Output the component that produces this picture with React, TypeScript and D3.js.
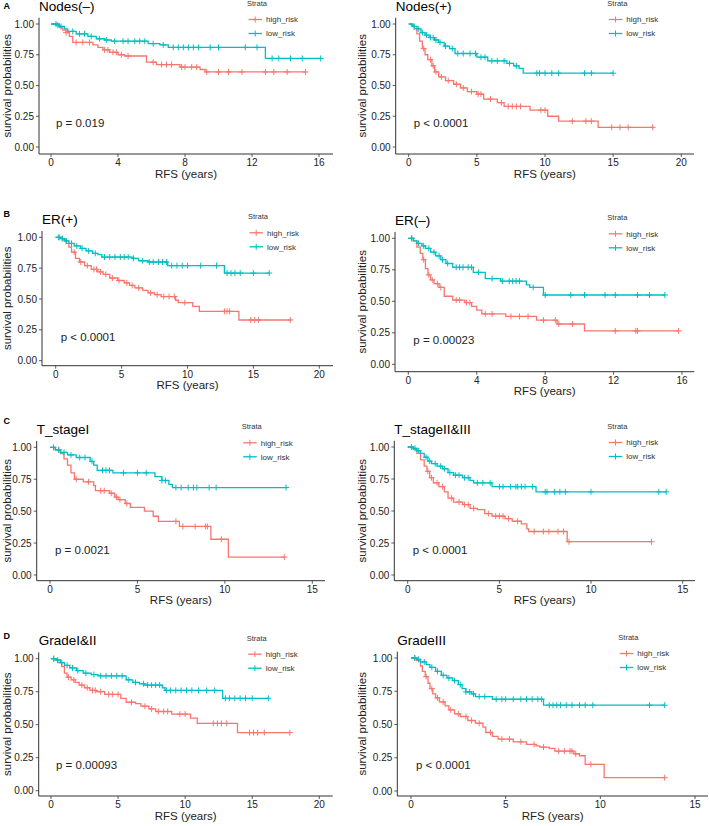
import { useEffect, useRef } from 'react'
import * as d3 from 'd3'

type Step = [number, number]

const strata = ['high_risk', 'low_risk']
const strataColors = ['#F8766D', '#00BFC4']
const yTicks = [0, 0.25, 0.5, 0.75, 1]

// [time, survival after the drop]; censor = times of "+" marks (last one = end of curve)
const nodesNegHighSteps: Step[] = [[0.3,0.99],[0.5,0.97],[0.7,0.95],[0.9,0.93],[1.1,0.9],[1.3,0.85],[2.5,0.83],[2.8,0.81],[3.1,0.79],[3.5,0.77],[4.0,0.75],[4.4,0.74],[5.7,0.69],[6.3,0.67],[7.7,0.65],[8.9,0.63],[9.2,0.61]]
const nodesNegHighCensor = [0.4,0.9,1.5,1.9,2.3,3.2,3.4,3.7,3.9,4.2,4.6,6.1,6.6,6.9,7.2,7.8,8.0,8.4,8.7,9.3,10.0,10.6,11.4,12.8,13.3,14.1,15.2]
const nodesNegLowSteps: Step[] = [[0.5,0.98],[0.8,0.96],[1.0,0.94],[1.5,0.92],[2.2,0.9],[2.7,0.88],[3.2,0.87],[3.6,0.86],[5.8,0.84],[6.5,0.83],[7.0,0.81],[12.8,0.72]]
const nodesNegLowCensor = [0.3,0.6,1.3,1.7,2.0,2.4,2.9,3.3,3.8,4.3,4.6,5.0,5.3,5.6,6.1,6.7,7.3,7.6,7.9,8.2,8.5,8.8,9.5,10.0,11.6,12.3,13.2,13.6,14.3,15.0,16.1]

const nodesPosHighSteps: Step[] = [[0.2,0.99],[0.4,0.96],[0.6,0.92],[0.8,0.86],[1.0,0.8],[1.2,0.75],[1.4,0.71],[1.7,0.66],[1.9,0.61],[2.2,0.57],[2.7,0.54],[3.3,0.51],[3.8,0.48],[4.3,0.45],[5.0,0.43],[5.5,0.39],[6.5,0.36],[7.0,0.33],[8.9,0.3],[10.2,0.25],[11.0,0.21],[13.9,0.16]]
const nodesPosHighCensor = [1.1,1.6,1.8,2.0,2.4,2.9,3.5,4.0,4.6,5.1,5.3,6.0,6.8,7.3,7.6,7.9,8.2,9.7,10.0,12.0,13.0,13.4,14.9,15.5,16.1,17.9]
const nodesPosLowSteps: Step[] = [[0.3,0.98],[0.6,0.96],[0.9,0.93],[1.2,0.91],[1.5,0.89],[1.9,0.87],[2.2,0.85],[2.6,0.82],[3.0,0.8],[3.4,0.76],[5.0,0.73],[5.8,0.7],[7.2,0.68],[7.7,0.66],[8.1,0.64],[8.4,0.6]]
const nodesPosLowCensor = [0.4,0.7,1.0,1.3,1.6,1.8,2.0,2.3,2.7,3.2,3.6,4.0,4.5,4.9,5.3,5.6,6.1,6.5,7.0,7.4,7.9,9.4,9.6,10.0,10.5,11.0,12.9,13.4,15.0]

const erPosHighSteps: Step[] = [[0.5,0.98],[0.8,0.95],[1.0,0.92],[1.2,0.88],[1.5,0.83],[1.8,0.8],[2.2,0.77],[2.7,0.74],[3.2,0.72],[3.6,0.7],[4.1,0.67],[4.7,0.65],[5.2,0.63],[5.6,0.61],[6.0,0.59],[6.6,0.57],[7.0,0.55],[7.5,0.535],[8.0,0.52],[9.1,0.49],[9.3,0.47],[10.4,0.44],[10.9,0.4],[13.9,0.33]]
const erPosHighCensor = [0.3,1.4,1.9,2.4,2.9,3.1,3.4,3.8,4.3,4.8,5.4,5.8,6.3,7.2,7.7,8.2,8.6,9.0,9.8,12.8,13.0,13.2,14.8,15.1,15.4,17.8]
const erPosLowSteps: Step[] = [[0.4,0.99],[0.7,0.97],[1.0,0.95],[1.4,0.93],[1.9,0.91],[2.3,0.89],[2.8,0.87],[3.2,0.86],[3.5,0.84],[5.8,0.83],[6.3,0.81],[7.0,0.8],[8.5,0.77],[12.8,0.71]]
const erPosLowCensor = [0.2,0.5,0.8,1.2,1.6,2.0,2.5,3.0,3.7,4.1,4.5,4.9,5.2,5.5,5.9,6.6,7.1,7.4,7.8,8.1,8.4,8.8,9.2,9.6,10.0,11.0,12.2,13.0,13.3,13.6,14.0,15.0,16.2]

const erNegHighSteps: Step[] = [[0.3,0.98],[0.5,0.93],[0.7,0.88],[0.85,0.83],[1.0,0.76],[1.15,0.71],[1.3,0.67],[1.5,0.64],[1.8,0.61],[2.1,0.54],[2.6,0.51],[3.3,0.49],[3.7,0.46],[4.0,0.43],[4.3,0.4],[5.7,0.38],[7.5,0.35],[8.7,0.32],[10.3,0.265]]
const erNegHighCensor = [0.2,0.9,1.2,1.4,1.7,1.9,2.8,3.0,3.4,3.6,4.5,4.9,6.0,6.5,7.0,7.9,8.6,8.8,9.6,12.1,13.3,13.4,15.8]
const erNegLowSteps: Step[] = [[0.3,0.98],[0.5,0.96],[0.8,0.94],[1.0,0.92],[1.3,0.89],[1.6,0.86],[1.9,0.83],[2.2,0.8],[2.6,0.77],[3.8,0.73],[4.5,0.68],[5.4,0.66],[6.9,0.63],[7.1,0.61],[7.9,0.55]]
const erNegLowCensor = [0.2,0.6,0.9,1.2,1.5,1.8,2.0,2.3,2.8,3.0,3.2,3.5,3.7,4.1,4.9,5.5,5.9,6.1,6.3,6.5,7.3,8.0,9.5,10.3,11.5,12.1,13.4,14.1,15.0]

const stageIHighSteps: Step[] = [[0.3,0.98],[0.6,0.95],[0.8,0.91],[1.0,0.86],[1.2,0.8],[1.4,0.75],[1.9,0.73],[2.5,0.7],[2.6,0.66],[3.4,0.64],[3.7,0.61],[3.9,0.59],[4.3,0.56],[4.6,0.53],[5.4,0.5],[5.9,0.46],[6.2,0.42],[7.4,0.38],[9.2,0.28],[10.2,0.14]]
const stageIHighCensor = [0.5,1.5,2.2,2.9,3.1,3.5,3.8,4.0,4.4,7.2,7.6,8.3,8.9,9.0,9.8,13.4]
const stageILowSteps: Step[] = [[0.3,0.98],[0.6,0.96],[1.0,0.94],[1.5,0.92],[2.3,0.89],[2.5,0.86],[2.7,0.82],[3.6,0.8],[6.0,0.77],[6.4,0.74],[6.8,0.71],[7.0,0.685]]
const stageILowCensor = [0.2,0.5,0.8,1.2,1.7,2.0,2.4,3.0,3.2,3.4,4.2,5.0,5.5,6.4,6.6,7.2,7.5,7.9,8.2,8.4,9.1,9.5,13.5]

const stageIIHighSteps: Step[] = [[0.3,0.98],[0.5,0.95],[0.7,0.9],[0.9,0.85],[1.05,0.81],[1.2,0.76],[1.4,0.72],[1.7,0.69],[2.0,0.65],[2.2,0.6],[2.5,0.57],[3.0,0.55],[3.4,0.52],[3.8,0.51],[4.2,0.48],[4.6,0.46],[5.3,0.44],[5.7,0.42],[6.2,0.4],[6.5,0.36],[6.6,0.34],[8.7,0.26]]
const stageIIHighCensor = [1.1,1.3,1.6,1.9,2.4,2.8,3.1,3.3,3.6,4.4,4.8,5.0,5.2,5.5,6.0,6.9,7.4,7.7,8.2,8.5,8.8,13.3]
const stageIILowSteps: Step[] = [[0.3,0.99],[0.5,0.97],[0.7,0.95],[0.9,0.92],[1.1,0.89],[1.3,0.87],[1.6,0.85],[1.9,0.83],[2.2,0.8],[2.5,0.78],[3.0,0.76],[3.4,0.74],[3.6,0.72],[4.6,0.69],[7.0,0.65]]
const stageIILowCensor = [0.2,0.4,0.6,1.0,1.2,1.5,1.8,2.0,2.3,2.6,2.8,3.1,3.3,3.8,4.1,4.5,5.0,5.2,5.6,5.9,6.0,6.2,6.4,6.8,7.5,7.6,8.0,8.3,8.6,10.0,13.7,14.1]

const gradeIHighSteps: Step[] = [[0.3,0.99],[0.5,0.97],[0.8,0.94],[1.0,0.89],[1.2,0.86],[1.5,0.84],[1.8,0.82],[2.1,0.8],[2.5,0.78],[2.9,0.76],[3.4,0.75],[4.0,0.73],[5.2,0.7],[5.6,0.67],[6.3,0.66],[6.7,0.64],[7.3,0.62],[7.8,0.6],[9.0,0.58],[10.4,0.55],[10.9,0.51],[13.9,0.44]]
const gradeIHighCensor = [0.2,1.3,1.7,2.3,2.7,3.1,3.3,3.7,4.3,4.6,5.0,6.0,7.0,7.5,8.0,8.4,8.7,9.6,10.0,12.1,12.4,12.7,13.1,14.8,15.1,15.4,15.9,17.8]
const gradeILowSteps: Step[] = [[0.4,0.99],[0.7,0.97],[1.0,0.95],[1.4,0.93],[1.9,0.91],[2.4,0.89],[3.0,0.88],[3.5,0.87],[5.6,0.84],[6.1,0.82],[6.6,0.81],[7.0,0.8],[8.3,0.78],[8.5,0.76],[12.8,0.7]]
const gradeILowCensor = [0.2,0.5,0.8,1.2,1.6,2.0,2.6,3.2,3.7,4.1,4.5,4.9,5.3,5.8,6.3,6.9,7.2,7.5,7.8,8.1,8.6,8.9,9.3,9.7,10.1,10.5,11.0,11.6,12.2,13.0,13.3,13.7,14.1,14.5,15.0,16.2]

const gradeIIIHighSteps: Step[] = [[0.3,0.98],[0.5,0.94],[0.6,0.9],[0.75,0.86],[0.9,0.81],[1.0,0.77],[1.15,0.73],[1.3,0.7],[1.5,0.67],[1.8,0.64],[2.0,0.61],[2.3,0.58],[2.6,0.56],[3.0,0.53],[3.4,0.51],[3.8,0.48],[3.95,0.44],[4.3,0.41],[4.6,0.39],[5.4,0.37],[6.1,0.35],[6.6,0.34],[6.8,0.33],[7.3,0.32],[7.6,0.3],[8.6,0.28],[8.9,0.265],[9.2,0.2],[10.2,0.1]]
const gradeIIIHighCensor = [0.2,0.8,1.1,1.4,1.7,2.1,2.5,2.9,3.2,3.6,4.2,4.8,5.2,5.8,6.5,7.0,7.8,8.1,8.4,8.5,8.7,9.5,13.4]
const gradeIIILowSteps: Step[] = [[0.3,0.99],[0.5,0.97],[0.8,0.95],[1.0,0.93],[1.3,0.9],[1.6,0.87],[1.9,0.85],[2.2,0.83],[2.5,0.8],[2.7,0.77],[2.9,0.745],[3.2,0.73],[3.4,0.71],[4.3,0.69],[7.0,0.645]]
const gradeIIILowCensor = [0.2,0.4,0.7,1.1,1.4,1.7,2.0,2.3,2.6,2.9,3.1,3.3,3.6,3.9,4.5,4.8,5.0,5.4,5.8,6.1,6.4,6.7,6.9,7.3,7.5,7.7,7.9,8.2,8.5,8.9,9.2,9.6,12.6,13.4]

const panelTitles = ['Nodes(\u2013)', 'Nodes(+)', 'ER(+)', 'ER(\u2013)', 'T_stageI', 'T_stageII&III', 'GradeI&II', 'GradeIII']
const panelLetters = ['A', '', 'B', '', 'C', '', 'D', '']
const pValues = ['p = 0.019', 'p < 0.0001', 'p < 0.0001', 'p = 0.00023', 'p = 0.0021', 'p < 0.0001', 'p = 0.00093', 'p < 0.0001']
const xTickSets = [
  [0, 4, 8, 12, 16], [0, 5, 10, 15, 20],
  [0, 5, 10, 15, 20], [0, 4, 8, 12, 16],
  [0, 5, 10, 15], [0, 5, 10, 15],
  [0, 5, 10, 15, 20], [0, 5, 10, 15],
]
const highCurves = [
  [nodesNegHighSteps, nodesNegHighCensor], [nodesPosHighSteps, nodesPosHighCensor],
  [erPosHighSteps, erPosHighCensor], [erNegHighSteps, erNegHighCensor],
  [stageIHighSteps, stageIHighCensor], [stageIIHighSteps, stageIIHighCensor],
  [gradeIHighSteps, gradeIHighCensor], [gradeIIIHighSteps, gradeIIIHighCensor],
] as [Step[], number[]][]
const lowCurves = [
  [nodesNegLowSteps, nodesNegLowCensor], [nodesPosLowSteps, nodesPosLowCensor],
  [erPosLowSteps, erPosLowCensor], [erNegLowSteps, erNegLowCensor],
  [stageILowSteps, stageILowCensor], [stageIILowSteps, stageIILowCensor],
  [gradeILowSteps, gradeILowCensor], [gradeIIILowSteps, gradeIIILowCensor],
] as [Step[], number[]][]

// panel placement (pixels)
const layouts = [
  { ox: 0, oy: 0, axisX: 39, x0: 51, xT: 319, right: 333, y1: 24, y0: 147, axisY: 154, legX: 247, letterY: 8.5 },
  { ox: 355, oy: 0, axisX: 40.7, x0: 53.7, xT: 326.3, right: 339, y1: 24, y0: 147, axisY: 154, legX: 252.3, letterY: 0 },
  { ox: 0, oy: 200, axisX: 42, x0: 55.7, xT: 319.3, right: 333, y1: 37.3, y0: 160.7, axisY: 165.7, legX: 248, letterY: 16.7 },
  { ox: 355, oy: 200, axisX: 40, x0: 53.3, xT: 327, right: 339.3, y1: 38.3, y0: 164.3, axisY: 171.7, legX: 252.3, letterY: 0 },
  { ox: 0, oy: 405, axisX: 36.7, x0: 50, xT: 312.3, right: 325, y1: 42.3, y0: 170, axisY: 175.7, legX: 241.7, letterY: 19 },
  { ox: 355, oy: 405, axisX: 39.3, x0: 52.7, xT: 327.7, right: 340, y1: 42, y0: 170, axisY: 175.7, legX: 252.3, letterY: 0 },
  { ox: 0, oy: 612, axisX: 38.7, x0: 51, xT: 319.3, right: 332.7, y1: 46.7, y0: 178.7, axisY: 184, legX: 246.7, letterY: 26.7 },
  { ox: 355, oy: 612, axisX: 42.3, x0: 56, xT: 340, right: 353, y1: 46, y0: 179, axisY: 184, legX: 263.3, letterY: 0 },
]

const FONT = '"Liberation Sans", Arial, Helvetica, sans-serif'

function survAt(steps: Step[], t: number) {
  let s = 1
  for (const [st, sv] of steps) {
    if (st <= t) s = sv
    else break
  }
  return s
}

export default function App() {
  const svgRef = useRef<SVGSVGElement>(null)

  useEffect(() => {
    if (!svgRef.current) return
    const svg = d3.select(svgRef.current)
    svg.selectAll('*').remove()

    layouts.forEach((L, i) => {
      const g = svg.append('g').attr('transform', `translate(${L.ox},${L.oy})`)
      const ticks = xTickSets[i]
      const tMax = ticks[ticks.length - 1]
      const x = d3.scaleLinear().domain([0, tMax]).range([L.x0, L.xT])
      const y = d3.scaleLinear().domain([0, 1]).range([L.y0, L.y1])

      // letter + title
      if (panelLetters[i]) {
        g.append('text').attr('x', 3.5).attr('y', L.letterY)
          .style('font-family', FONT).style('font-size', '9px').style('font-weight', 'bold')
          .text(panelLetters[i])
      }
      g.append('text').attr('x', L.axisX).attr('y', L.y1 - 13.5)
        .style('font-family', FONT).style('font-size', '13.5px')
        .text(panelTitles[i])

      // curves
      const line = d3.line<Step>().x(d => x(d[0])).y(d => y(d[1])).curve(d3.curveStepAfter)
      const curves = [highCurves[i], lowCurves[i]]
      curves.forEach(([steps, censor], k) => {
        const end = d3.max(censor) as number
        const pts: Step[] = [[0, 1], ...steps, [end, steps[steps.length - 1][1]]]
        g.append('path').attr('d', line(pts) as string)
          .attr('fill', 'none').attr('stroke', strataColors[k]).attr('stroke-width', 1.3)
        const cp = censor.map(t => [x(t), y(survAt(steps, t))])
        g.append('path')
          .attr('d', cp.map(([cx, cy]) => `M${cx - 3},${cy}H${cx + 3}M${cx},${cy - 3}V${cy + 3}`).join(''))
          .attr('fill', 'none').attr('stroke', strataColors[k]).attr('stroke-width', 1)
      })

      // axes
      g.append('line').attr('x1', L.axisX).attr('x2', L.axisX).attr('y1', L.y1 - 6.3).attr('y2', L.axisY)
        .attr('stroke', '#333').attr('stroke-width', 1)
      g.append('line').attr('x1', L.axisX).attr('x2', L.right).attr('y1', L.axisY).attr('y2', L.axisY)
        .attr('stroke', '#333').attr('stroke-width', 1)
      yTicks.forEach(v => {
        g.append('line').attr('x1', L.axisX - 3).attr('x2', L.axisX).attr('y1', y(v)).attr('y2', y(v))
          .attr('stroke', '#333').attr('stroke-width', 0.8)
        g.append('text').attr('x', L.axisX - 5).attr('y', y(v)).attr('dy', '0.36em')
          .attr('text-anchor', 'end')
          .style('font-family', FONT).style('font-size', '10px').style('fill', '#222')
          .text(d3.format('.2f')(v))
      })
      ticks.forEach(v => {
        g.append('line').attr('x1', x(v)).attr('x2', x(v)).attr('y1', L.axisY).attr('y2', L.axisY + 3)
          .attr('stroke', '#333').attr('stroke-width', 0.8)
        g.append('text').attr('x', x(v)).attr('y', L.axisY + 12.2)
          .attr('text-anchor', 'middle')
          .style('font-family', FONT).style('font-size', '10px').style('fill', '#222')
          .text(String(v))
      })
      g.append('text').attr('x', (L.axisX + L.right) / 2).attr('y', L.axisY + 23.5)
        .attr('text-anchor', 'middle')
        .style('font-family', FONT).style('font-size', '11.5px').style('fill', '#222')
        .text('RFS (years)')
      const midY = (L.y1 - 6.3 + L.axisY) / 2
      g.append('text').attr('transform', `translate(11,${midY}) rotate(-90)`)
        .attr('text-anchor', 'middle')
        .style('font-family', FONT).style('font-size', '11.5px').style('fill', '#222')
        .text('survival probabilities')

      // p-value
      g.append('text').attr('x', x(0) + 5).attr('y', y(0.2) + 4.5)
        .style('font-family', FONT).style('font-size', '11.5px').style('fill', '#222')
        .text(pValues[i])

      // legend
      g.append('text').attr('x', L.legX).attr('y', L.y1 - 18)
        .style('font-family', FONT).style('font-size', '7.5px').style('fill', '#333')
        .text('Strata')
      strata.forEach((s, k) => {
        const ly = L.y1 - 4.5 + k * 14
        g.append('line').attr('x1', L.legX + 1.5).attr('x2', L.legX + 15).attr('y1', ly).attr('y2', ly)
          .attr('stroke', strataColors[k]).attr('stroke-width', 1.3)
        const cx = L.legX + 8.2
        g.append('path').attr('d', `M${cx},${ly - 3}V${ly + 3}`)
          .attr('stroke', strataColors[k]).attr('stroke-width', 1)
        g.append('text').attr('x', L.legX + 19).attr('y', ly).attr('dy', '0.35em')
          .style('font-family', FONT).style('font-size', '8px').style('fill', '#333')
          .text(s)
      })
    })
  }, [])

  return (
    <svg
      ref={svgRef}
      width={709}
      height={826}
      style={{ position: 'absolute', left: 0, top: 0, background: '#fff' }}
    />
  )
}
